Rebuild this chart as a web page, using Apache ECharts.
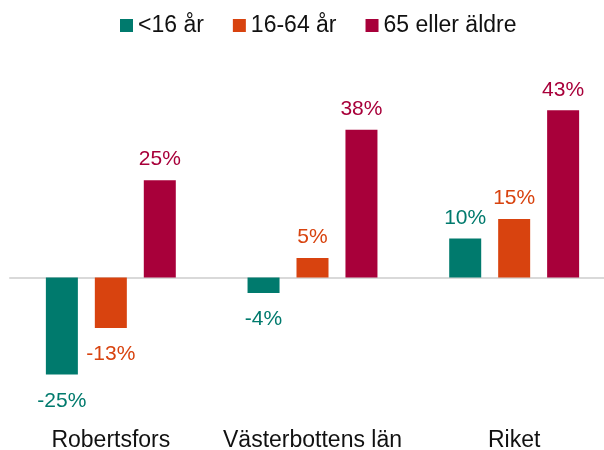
<!DOCTYPE html>
<html>
<head>
<meta charset="utf-8">
<script src="https://cdn.jsdelivr.net/npm/echarts@6/dist/echarts.min.js"></script>
<style>
	html, body { margin: 0; padding: 0; background: #fff; }
	#main { width: 604px; height: 450px; }
</style>
</head>
<body>
<div id="main"></div>
<script>
	var categories = ['Robertsfors', 'Västerbottens län', 'Riket'];
	var seriesNames = ['<16 år', '16-64 år', '65 eller äldre'];
	var under16 = [-25, -4, 10];
	var age16to64 = [-13, 5, 15];
	var over65 = [25, 38, 43];
	var colors = ['#007a6d', '#d8430f', '#a8003a'];

	var font = 'Liberation Sans, Arial, sans-serif';

	function makeData(arr) {
		return arr.map(function(v) {
			return {
				value: v,
				label: v < 0 ? { position: 'bottom', distance: 16 } : { position: 'top', distance: 10 }
			};
		});
	}

	function makeSeries(name, arr, color) {
		return {
			name: name,
			type: 'bar',
			barWidth: 32,
			barGap: '53%',
			itemStyle: { color: color },
			label: {
				show: true,
				color: color,
				fontSize: 21,
				fontFamily: font,
				formatter: function(p) { return p.value + '%'; }
			},
			data: makeData(arr)
		};
	}

	var myChart = echarts.init(document.getElementById('main'));
	var option = {
		backgroundColor: '#fff',
		animation: false,
		legend: {
			top: 9,
			left: 115,
			itemWidth: 13,
			itemHeight: 13,
			itemGap: 29,
			itemTextGap: 4,
			icon: 'rect',
			textStyle: { fontSize: 23, fontFamily: font, color: '#111' },
			data: seriesNames
		},
		grid: {
			left: 10,
			width: 605,
			top: 83,
			bottom: 56,
			outerBoundsMode: 'none'
		},
		xAxis: [{
			type: 'category',
			data: categories,
			axisLine: { show: true, onZero: true, lineStyle: { color: '#d9d9d9', width: 2 } },
			axisTick: { show: false },
			axisLabel: { show: false }
		}, {
			type: 'category',
			data: categories,
			position: 'bottom',
			axisLine: { show: false, onZero: false },
			axisTick: { show: false },
			axisLabel: { show: true, interval: 0, fontSize: 23, fontFamily: font, color: '#111', margin: 35 }
		}],
		yAxis: {
			type: 'value',
			min: -30,
			max: 50,
			show: false,
			splitLine: { show: false }
		},
		series: [
			makeSeries(seriesNames[0], under16, colors[0]),
			makeSeries(seriesNames[1], age16to64, colors[1]),
			makeSeries(seriesNames[2], over65, colors[2])
		]
	};
	myChart.setOption(option);
</script>
</body>
</html>
